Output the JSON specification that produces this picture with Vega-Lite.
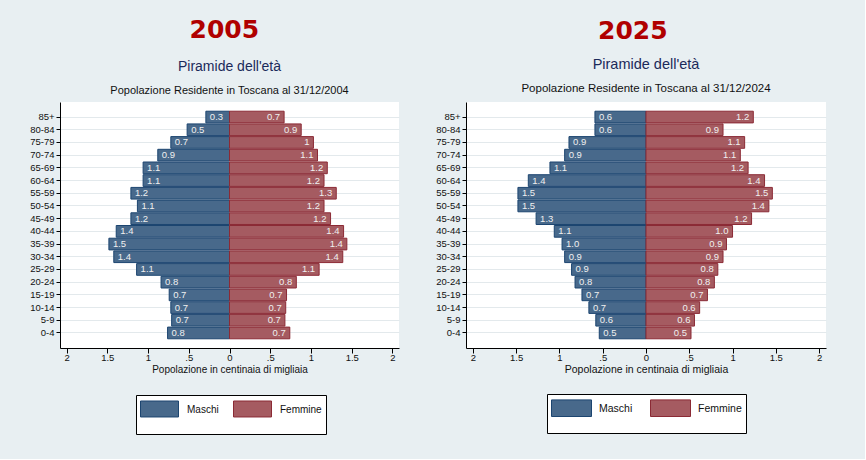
{
  "$schema": "https://vega.github.io/schema/vega-lite/v6.json",
  "background": "#e8eff2",
  "padding": {"left": 29, "top": 18, "right": 39, "bottom": 24},
  "config": {
    "view": {"stroke": null, "fill": "white"},
    "font": "Liberation Sans",
    "concat": {"spacing": 36},
    "axis": {
      "domainColor": "black",
      "tickColor": "black",
      "labelColor": "#111111",
      "titleColor": "#111111",
      "labelFont": "Liberation Sans",
      "titleFont": "Liberation Sans",
      "titleFontWeight": "normal"
    }
  },
  "datasets": {
    "p2005": [
      {"age": "85+", "sex": "Maschi", "value": -0.29, "label": "0.3"},
      {"age": "85+", "sex": "Femmine", "value": 0.67, "label": "0.7"},
      {"age": "80-84", "sex": "Maschi", "value": -0.52, "label": "0.5"},
      {"age": "80-84", "sex": "Femmine", "value": 0.88, "label": "0.9"},
      {"age": "75-79", "sex": "Maschi", "value": -0.72, "label": "0.7"},
      {"age": "75-79", "sex": "Femmine", "value": 1.03, "label": "1"},
      {"age": "70-74", "sex": "Maschi", "value": -0.88, "label": "0.9"},
      {"age": "70-74", "sex": "Femmine", "value": 1.08, "label": "1.1"},
      {"age": "65-69", "sex": "Maschi", "value": -1.06, "label": "1.1"},
      {"age": "65-69", "sex": "Femmine", "value": 1.2, "label": "1.2"},
      {"age": "60-64", "sex": "Maschi", "value": -1.06, "label": "1.1"},
      {"age": "60-64", "sex": "Femmine", "value": 1.16, "label": "1.2"},
      {"age": "55-59", "sex": "Maschi", "value": -1.21, "label": "1.2"},
      {"age": "55-59", "sex": "Femmine", "value": 1.31, "label": "1.3"},
      {"age": "50-54", "sex": "Maschi", "value": -1.13, "label": "1.1"},
      {"age": "50-54", "sex": "Femmine", "value": 1.16, "label": "1.2"},
      {"age": "45-49", "sex": "Maschi", "value": -1.21, "label": "1.2"},
      {"age": "45-49", "sex": "Femmine", "value": 1.24, "label": "1.2"},
      {"age": "40-44", "sex": "Maschi", "value": -1.39, "label": "1.4"},
      {"age": "40-44", "sex": "Femmine", "value": 1.4, "label": "1.4"},
      {"age": "35-39", "sex": "Maschi", "value": -1.48, "label": "1.5"},
      {"age": "35-39", "sex": "Femmine", "value": 1.44, "label": "1.4"},
      {"age": "30-34", "sex": "Maschi", "value": -1.42, "label": "1.4"},
      {"age": "30-34", "sex": "Femmine", "value": 1.39, "label": "1.4"},
      {"age": "25-29", "sex": "Maschi", "value": -1.14, "label": "1.1"},
      {"age": "25-29", "sex": "Femmine", "value": 1.1, "label": "1.1"},
      {"age": "20-24", "sex": "Maschi", "value": -0.84, "label": "0.8"},
      {"age": "20-24", "sex": "Femmine", "value": 0.82, "label": "0.8"},
      {"age": "15-19", "sex": "Maschi", "value": -0.74, "label": "0.7"},
      {"age": "15-19", "sex": "Femmine", "value": 0.7, "label": "0.7"},
      {"age": "10-14", "sex": "Maschi", "value": -0.72, "label": "0.7"},
      {"age": "10-14", "sex": "Femmine", "value": 0.69, "label": "0.7"},
      {"age": "5-9", "sex": "Maschi", "value": -0.71, "label": "0.7"},
      {"age": "5-9", "sex": "Femmine", "value": 0.68, "label": "0.7"},
      {"age": "0-4", "sex": "Maschi", "value": -0.76, "label": "0.8"},
      {"age": "0-4", "sex": "Femmine", "value": 0.74, "label": "0.7"}
    ],
    "p2025": [
      {"age": "85+", "sex": "Maschi", "value": -0.59, "label": "0.6"},
      {"age": "85+", "sex": "Femmine", "value": 1.24, "label": "1.2"},
      {"age": "80-84", "sex": "Maschi", "value": -0.59, "label": "0.6"},
      {"age": "80-84", "sex": "Femmine", "value": 0.89, "label": "0.9"},
      {"age": "75-79", "sex": "Maschi", "value": -0.89, "label": "0.9"},
      {"age": "75-79", "sex": "Femmine", "value": 1.14, "label": "1.1"},
      {"age": "70-74", "sex": "Maschi", "value": -0.94, "label": "0.9"},
      {"age": "70-74", "sex": "Femmine", "value": 1.09, "label": "1.1"},
      {"age": "65-69", "sex": "Maschi", "value": -1.11, "label": "1.1"},
      {"age": "65-69", "sex": "Femmine", "value": 1.18, "label": "1.2"},
      {"age": "60-64", "sex": "Maschi", "value": -1.36, "label": "1.4"},
      {"age": "60-64", "sex": "Femmine", "value": 1.37, "label": "1.4"},
      {"age": "55-59", "sex": "Maschi", "value": -1.48, "label": "1.5"},
      {"age": "55-59", "sex": "Femmine", "value": 1.46, "label": "1.5"},
      {"age": "50-54", "sex": "Maschi", "value": -1.48, "label": "1.5"},
      {"age": "50-54", "sex": "Femmine", "value": 1.42, "label": "1.4"},
      {"age": "45-49", "sex": "Maschi", "value": -1.27, "label": "1.3"},
      {"age": "45-49", "sex": "Femmine", "value": 1.22, "label": "1.2"},
      {"age": "40-44", "sex": "Maschi", "value": -1.06, "label": "1.1"},
      {"age": "40-44", "sex": "Femmine", "value": 1.0, "label": "1.0"},
      {"age": "35-39", "sex": "Maschi", "value": -0.97, "label": "1.0"},
      {"age": "35-39", "sex": "Femmine", "value": 0.93, "label": "0.9"},
      {"age": "30-34", "sex": "Maschi", "value": -0.94, "label": "0.9"},
      {"age": "30-34", "sex": "Femmine", "value": 0.89, "label": "0.9"},
      {"age": "25-29", "sex": "Maschi", "value": -0.86, "label": "0.9"},
      {"age": "25-29", "sex": "Femmine", "value": 0.83, "label": "0.8"},
      {"age": "20-24", "sex": "Maschi", "value": -0.82, "label": "0.8"},
      {"age": "20-24", "sex": "Femmine", "value": 0.79, "label": "0.8"},
      {"age": "15-19", "sex": "Maschi", "value": -0.74, "label": "0.7"},
      {"age": "15-19", "sex": "Femmine", "value": 0.71, "label": "0.7"},
      {"age": "10-14", "sex": "Maschi", "value": -0.66, "label": "0.7"},
      {"age": "10-14", "sex": "Femmine", "value": 0.62, "label": "0.6"},
      {"age": "5-9", "sex": "Maschi", "value": -0.58, "label": "0.6"},
      {"age": "5-9", "sex": "Femmine", "value": 0.56, "label": "0.6"},
      {"age": "0-4", "sex": "Maschi", "value": -0.54, "label": "0.5"},
      {"age": "0-4", "sex": "Femmine", "value": 0.52, "label": "0.5"}
    ]
  },
  "hconcat": [
    {
      "title": {"text": "2005", "font": "DejaVu Sans", "fontSize": 25, "fontWeight": "bold", "color": "#b00000", "anchor": "middle", "offset": 16, "dx": 10, "dy": -0.5},
      "vconcat": [
        {
          "width": 339,
          "height": 246,
          "title": {"text": "Piramide dell'età", "subtitle": "Popolazione Residente in Toscana al 31/12/2004", "frame": "group", "anchor": "middle", "font": "Liberation Sans", "fontSize": 14, "fontWeight": "normal", "color": "#1b2a5a", "subtitleFont": "Liberation Sans", "subtitleFontSize": 11, "subtitleColor": "#111111", "subtitlePadding": 11, "offset": 6.5},
          "data": {"name": "p2005"},
          "encoding": {
            "y": {"field": "age", "type": "nominal", "sort": ["85+", "80-84", "75-79", "70-74", "65-69", "60-64", "55-59", "50-54", "45-49", "40-44", "35-39", "30-34", "25-29", "20-24", "15-19", "10-14", "5-9", "0-4"], "scale": {"paddingInner": 0.08, "paddingOuter": 0.725}, "axis": {"title": null, "grid": true, "gridColor": "#e3e9ec", "bandPosition": 0.5, "tickSize": 4, "labelPadding": 2, "labelFontSize": 9.5}},
            "x": {"field": "value", "type": "quantitative", "scale": {"domain": [-2.08, 2.08], "nice": false}, "axis": {"title": "Popolazione in centinaia di migliaia", "values": [-2, -1.5, -1, -0.5, 0, 0.5, 1, 1.5, 2], "labelExpr": "abs(datum.value) == 0.5 ? '.5' : format(abs(datum.value), '~g')", "grid": false, "tickSize": 5, "labelPadding": -1, "labelFontSize": 9.5, "titleFontSize": 10, "titlePadding": 3}}
          },
          "layer": [
            {
              "mark": {"type": "bar", "strokeWidth": 1},
              "encoding": {
                "color": {"field": "sex", "type": "nominal", "scale": {"domain": ["Maschi", "Femmine"], "range": ["#48698b", "#a55b61"]}, "legend": {"orient": "none", "legendX": 76, "legendY": 293, "direction": "horizontal", "columns": 2, "strokeColor": "black", "fillColor": "white", "padding": 4, "clipHeight": 31, "symbolType": "M-1,-0.71H1V0.13H-1Z", "symbolSize": 1444, "symbolStrokeWidth": 1, "symbolOpacity": 1, "labelFont": "Liberation Sans", "labelFontSize": 10, "labelBaseline": "bottom", "labelColor": "#111111", "labelOffset": 8, "columnPadding": 14, "title": null}},
                "stroke": {"field": "sex", "type": "nominal", "scale": {"domain": ["Maschi", "Femmine"], "range": ["#1c4570", "#8b2a35"]}, "legend": {"orient": "none", "legendX": 76, "legendY": 293, "direction": "horizontal", "columns": 2, "strokeColor": "black", "fillColor": "white", "padding": 4, "clipHeight": 31, "symbolType": "M-1,-0.71H1V0.13H-1Z", "symbolSize": 1444, "symbolStrokeWidth": 1, "symbolOpacity": 1, "labelFont": "Liberation Sans", "labelFontSize": 10, "labelBaseline": "bottom", "labelColor": "#111111", "labelOffset": 8, "columnPadding": 14, "title": null}}
              }
            },
            {
              "transform": [{"filter": "datum.sex === 'Maschi'"}],
              "mark": {"type": "text", "align": "left", "baseline": "middle", "dx": 4, "fontSize": 9.5, "color": "#f0f0f0", "font": "Liberation Sans"},
              "encoding": {"text": {"field": "label", "type": "nominal"}}
            },
            {
              "transform": [{"filter": "datum.sex === 'Femmine'"}],
              "mark": {"type": "text", "align": "right", "baseline": "middle", "dx": -4, "fontSize": 9.5, "color": "#f0f0f0", "font": "Liberation Sans"},
              "encoding": {"text": {"field": "label", "type": "nominal"}}
            }
          ]
        }
      ]
    },
    {
      "title": {"text": "2025", "font": "DejaVu Sans", "fontSize": 25, "fontWeight": "bold", "color": "#b00000", "anchor": "middle", "offset": 16, "dx": 2, "dy": 2.5},
      "vconcat": [
        {
          "width": 360,
          "height": 246,
          "title": {"text": "Piramide dell'età", "subtitle": "Popolazione Residente in Toscana al 31/12/2024", "frame": "group", "anchor": "middle", "font": "Liberation Sans", "fontSize": 14.5, "fontWeight": "normal", "color": "#1b2a5a", "subtitleFont": "Liberation Sans", "subtitleFontSize": 11.5, "subtitleColor": "#111111", "subtitlePadding": 10.5, "offset": 6.5},
          "data": {"name": "p2025"},
          "encoding": {
            "y": {"field": "age", "type": "nominal", "sort": ["85+", "80-84", "75-79", "70-74", "65-69", "60-64", "55-59", "50-54", "45-49", "40-44", "35-39", "30-34", "25-29", "20-24", "15-19", "10-14", "5-9", "0-4"], "scale": {"paddingInner": 0.08, "paddingOuter": 0.725}, "axis": {"title": null, "grid": true, "gridColor": "#e3e9ec", "bandPosition": 0.5, "tickSize": 4, "labelPadding": 2, "labelFontSize": 9.5}},
            "x": {"field": "value", "type": "quantitative", "scale": {"domain": [-2.08, 2.08], "nice": false}, "axis": {"title": "Popolazione in centinaia di migliaia", "values": [-2, -1.5, -1, -0.5, 0, 0.5, 1, 1.5, 2], "labelExpr": "abs(datum.value) == 0.5 ? '.5' : format(abs(datum.value), '~g')", "grid": false, "tickSize": 5, "labelPadding": -1, "labelFontSize": 9.5, "titleFontSize": 10.5, "titlePadding": 3}}
          },
          "layer": [
            {
              "mark": {"type": "bar", "strokeWidth": 1},
              "encoding": {
                "color": {"field": "sex", "type": "nominal", "scale": {"domain": ["Maschi", "Femmine"], "range": ["#48698b", "#a55b61"]}, "legend": {"orient": "none", "legendX": 81, "legendY": 292, "direction": "horizontal", "columns": 2, "strokeColor": "black", "fillColor": "white", "padding": 4, "clipHeight": 31, "symbolType": "M-1,-0.68H1V0.15H-1Z", "symbolSize": 1600, "symbolStrokeWidth": 1, "symbolOpacity": 1, "labelFont": "Liberation Sans", "labelFontSize": 10.5, "labelBaseline": "bottom", "labelColor": "#111111", "labelOffset": 7, "columnPadding": 17, "title": null}},
                "stroke": {"field": "sex", "type": "nominal", "scale": {"domain": ["Maschi", "Femmine"], "range": ["#1c4570", "#8b2a35"]}, "legend": {"orient": "none", "legendX": 81, "legendY": 292, "direction": "horizontal", "columns": 2, "strokeColor": "black", "fillColor": "white", "padding": 4, "clipHeight": 31, "symbolType": "M-1,-0.68H1V0.15H-1Z", "symbolSize": 1600, "symbolStrokeWidth": 1, "symbolOpacity": 1, "labelFont": "Liberation Sans", "labelFontSize": 10.5, "labelBaseline": "bottom", "labelColor": "#111111", "labelOffset": 7, "columnPadding": 17, "title": null}}
              }
            },
            {
              "transform": [{"filter": "datum.sex === 'Maschi'"}],
              "mark": {"type": "text", "align": "left", "baseline": "middle", "dx": 4, "fontSize": 9.5, "color": "#f0f0f0", "font": "Liberation Sans"},
              "encoding": {"text": {"field": "label", "type": "nominal"}}
            },
            {
              "transform": [{"filter": "datum.sex === 'Femmine'"}],
              "mark": {"type": "text", "align": "right", "baseline": "middle", "dx": -4, "fontSize": 9.5, "color": "#f0f0f0", "font": "Liberation Sans"},
              "encoding": {"text": {"field": "label", "type": "nominal"}}
            }
          ]
        }
      ]
    }
  ],
  "resolve": {"scale": {"x": "independent", "y": "independent", "color": "independent", "stroke": "independent"}, "legend": {"color": "independent", "stroke": "independent"}}
}
